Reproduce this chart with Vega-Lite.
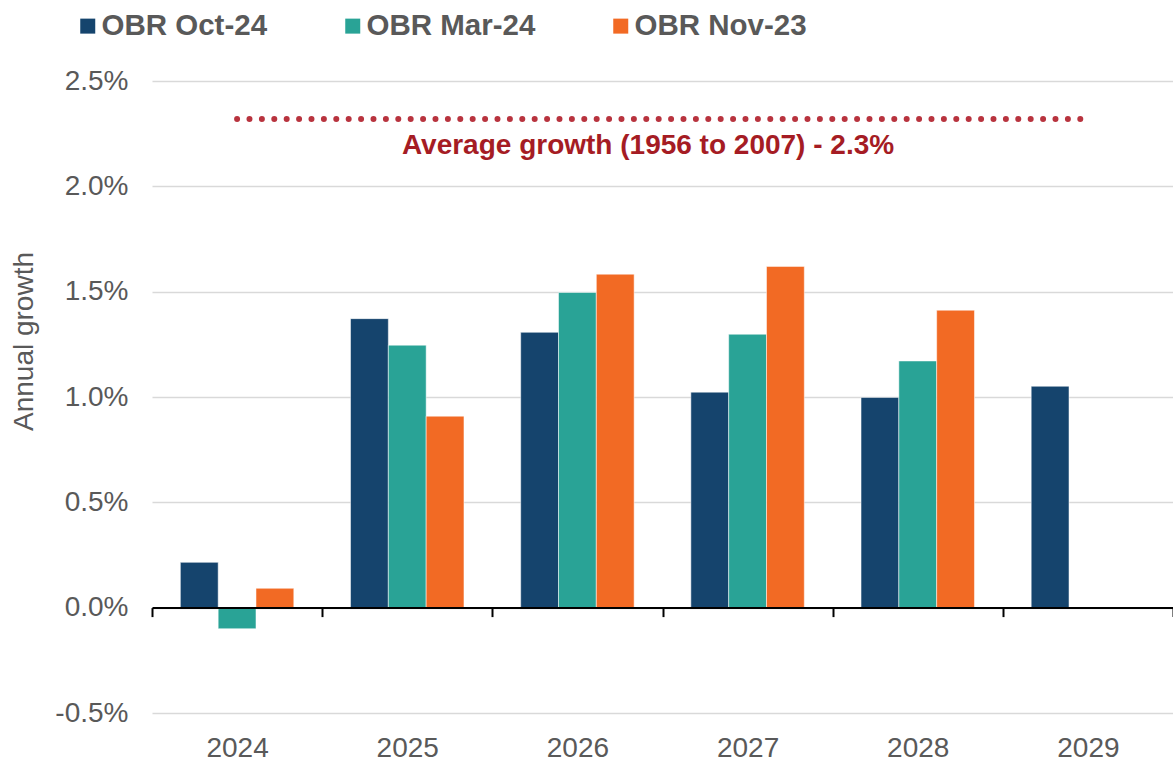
{
  "$schema": "https://vega.github.io/schema/vega-lite/v6.json",
  "width": 1021,
  "height": 632,
  "autosize": {"type": "none"},
  "padding": {"left": 152, "top": 81, "right": 0, "bottom": 49},
  "background": "white",
  "config": {"font": "Liberation Sans", "view": {"stroke": null}},
  "layer": [
    {
      "data": {
        "values": [
          {"year": "2024", "forecast": "OBR Oct-24", "growth": 0.215},
          {"year": "2024", "forecast": "OBR Mar-24", "growth": -0.10},
          {"year": "2024", "forecast": "OBR Nov-23", "growth": 0.092},
          {"year": "2025", "forecast": "OBR Oct-24", "growth": 1.372},
          {"year": "2025", "forecast": "OBR Mar-24", "growth": 1.246},
          {"year": "2025", "forecast": "OBR Nov-23", "growth": 0.909},
          {"year": "2026", "forecast": "OBR Oct-24", "growth": 1.307},
          {"year": "2026", "forecast": "OBR Mar-24", "growth": 1.496},
          {"year": "2026", "forecast": "OBR Nov-23", "growth": 1.583},
          {"year": "2027", "forecast": "OBR Oct-24", "growth": 1.023},
          {"year": "2027", "forecast": "OBR Mar-24", "growth": 1.298},
          {"year": "2027", "forecast": "OBR Nov-23", "growth": 1.620},
          {"year": "2028", "forecast": "OBR Oct-24", "growth": 0.998},
          {"year": "2028", "forecast": "OBR Mar-24", "growth": 1.171},
          {"year": "2028", "forecast": "OBR Nov-23", "growth": 1.412},
          {"year": "2029", "forecast": "OBR Oct-24", "growth": 1.051}
        ]
      },
      "mark": {"type": "bar", "stroke": "white", "strokeWidth": 1, "strokeOpacity": 0.5},
      "encoding": {
        "x": {
          "field": "year",
          "type": "nominal",
          "scale": {"paddingInner": 0, "paddingOuter": 0},
          "axis": {
            "title": null,
            "orient": "bottom",
            "offset": -105.4,
            "domainColor": "black",
            "domainWidth": 2,
            "tickColor": "black",
            "tickWidth": 2,
            "tickSize": 9,
            "tickBand": "extent",
            "labelPadding": 118,
            "labelFontSize": 28,
            "labelColor": "#595959",
            "labelAngle": 0,
            "labelFont": "Liberation Sans",
            "grid": false,
            "zindex": 1
          }
        },
        "xOffset": {
          "field": "forecast",
          "type": "nominal",
          "sort": ["OBR Oct-24", "OBR Mar-24", "OBR Nov-23"],
          "scale": {"paddingInner": 0, "paddingOuter": 0.75}
        },
        "y": {
          "field": "growth",
          "type": "quantitative",
          "scale": {"domain": [-0.5, 2.5], "nice": false, "zero": false},
          "axis": {
            "title": "Annual growth",
            "values": [-0.5, 0, 0.5, 1, 1.5, 2, 2.5],
            "labelExpr": "(datum.value < 0 ? '-' : '') + format(abs(datum.value), '.1f') + '%'",
            "labelFontSize": 28,
            "labelColor": "#595959",
            "labelFont": "Liberation Sans",
            "labelPadding": 24,
            "ticks": false,
            "tickSize": 0,
            "domain": false,
            "grid": true,
            "gridColor": "#D9D9D9",
            "gridWidth": 1.5,
            "titleFont": "Liberation Sans",
            "titleFontSize": 28,
            "titleColor": "#595959",
            "titleFontWeight": "normal",
            "titleX": -120,
            "titleY": 260,
            "titleAngle": 270,
            "titleBaseline": "alphabetic",
            "titleAlign": "center"
          }
        },
        "color": {
          "field": "forecast",
          "type": "nominal",
          "sort": ["OBR Oct-24", "OBR Mar-24", "OBR Nov-23"],
          "scale": {
            "domain": ["OBR Oct-24", "OBR Mar-24", "OBR Nov-23"],
            "range": ["#15446D", "#29A396", "#F26A24"]
          },
          "legend": {
            "title": null,
            "orient": "none",
            "legendX": -79,
            "legendY": -70,
            "direction": "horizontal",
            "symbolType": "square",
            "symbolSize": 225,
            "symbolStrokeWidth": 0,
            "symbolOpacity": 1,
            "labelFont": "Liberation Sans",
            "labelFontSize": 29.5,
            "labelFontWeight": "bold",
            "labelColor": "#595959",
            "labelOffset": -1,
            "labelLimit": 0,
            "columnPadding": 70
          }
        }
      }
    },
    {
      "data": {"values": [{"year": "2024", "year2": "2029", "growth": 2.32}]},
      "mark": {"type": "rule", "color": "#B8333E", "strokeWidth": 6, "strokeDash": [0, 12.4], "strokeCap": "round"},
      "encoding": {
        "x": {"field": "year", "type": "nominal"},
        "x2": {"field": "year2"},
        "y": {"field": "growth", "type": "quantitative"}
      }
    },
    {
      "data": {"values": [{"year": "2026", "growth": 2.19, "label": "Average growth (1956 to 2007) - 2.3%"}]},
      "mark": {"type": "text", "font": "Liberation Sans", "fontSize": 28, "fontWeight": "bold", "color": "#A51C24", "dx": 70.6, "baseline": "middle", "align": "center"},
      "encoding": {
        "x": {"field": "year", "type": "nominal"},
        "y": {"field": "growth", "type": "quantitative"},
        "text": {"field": "label"}
      }
    }
  ]
}
